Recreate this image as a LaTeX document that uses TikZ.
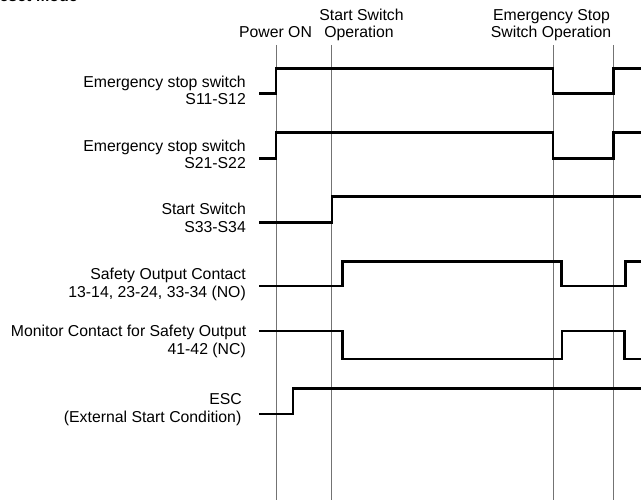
\documentclass[tikz,border=0pt]{standalone}
\usepackage{fontspec}
\setmainfont{Liberation Sans}
\begin{document}
\begin{tikzpicture}[x=1pt,y=-1pt,
  lbl/.style={inner sep=0pt, font=\fontsize{15.8}{18}\selectfont},
  ttl/.style={inner sep=0pt, font=\fontsize{16}{18}\bfseries},
  gridline/.style={draw=black!55, line width=0.9pt},
  sig/.style={draw=black, line width=2.6pt, line join=miter}]
\useasboundingbox (0,0) rectangle (641,502);
% cut-off title
\node[ttl, anchor=base east] (title) at (78,1.3) {Manual Reset Mode};
% time markers
\coordinate (pwt) at (276,45);  \coordinate (pwb) at (276,500);
\coordinate (stt) at (331.5,45); \coordinate (stb) at (331.5,500);
\coordinate (e1t) at (553,45);  \coordinate (e1b) at (553,500);
\coordinate (e2t) at (613.5,45); \coordinate (e2b) at (613.5,500);
\draw[gridline] (pwt) -- (pwb);
\draw[gridline] (stt) -- (stb);
\draw[gridline] (e1t) -- (e1b);
\draw[gridline] (e2t) -- (e2b);
% top labels
\node[lbl, anchor=base] (pw) at (275.5,37.7) {Power ON};
\node[lbl, anchor=base] (st1) at (361.5,20.7) {Start Switch};
\node[lbl, anchor=base] (st2) at (359,37.7) {Operation};
\node[lbl, anchor=base] (es1) at (551.5,20.7) {Emergency Stop};
\node[lbl, anchor=base] (es2) at (551,37.7) {Switch Operation};
% left labels
\node[lbl, anchor=base east] (a1) at (246,87.3) {Emergency stop switch};
\node[lbl, anchor=base east] (a2) at (246,105) {S11-S12};
\node[lbl, anchor=base east] (b1) at (246,151.3) {Emergency stop switch};
\node[lbl, anchor=base east] (b2) at (246,169) {S21-S22};
\node[lbl, anchor=base east] (c1) at (246,215) {Start Switch};
\node[lbl, anchor=base east] (c2) at (246,232.7) {S33-S34};
\node[lbl, anchor=base east] (d1) at (246,279.3) {Safety Output Contact};
\node[lbl, anchor=base east] (d2) at (246,297.3) {13-14, 23-24, 33-34 (NO)};
\node[lbl, anchor=base east] (m1) at (246.5,336.7) {Monitor Contact for Safety Output};
\node[lbl, anchor=base east] (m2) at (246,355) {41-42 (NC)};
\node[lbl, anchor=base east] (x1) at (242,404.3) {ESC};
\node[lbl, anchor=base east] (x2) at (241.5,422.7) {(External Start Condition)};
% signals
\draw[sig] (259,93.5) -- (276,93.5) -- (276,68.3) -- (553,68.3) -- (553,93.5) -- (613.5,93.5) -- (613.5,68.3) -- (641,68.3);
\draw[sig] (259,158.3) -- (276,158.3) -- (276,132.8) -- (553,132.8) -- (553,158.3) -- (613.5,158.3) -- (613.5,132.8) -- (641,132.8);
\draw[sig] (259,222.3) -- (332,222.3) -- (332,196.8) -- (641,196.8);
\draw[sig] (259,286) -- (342.3,286) -- (342.3,261.7) -- (561.3,261.7) -- (561.3,286) -- (625.7,286) -- (625.7,261.7) -- (641,261.7);
\draw[sig] (259,331) -- (342.3,331) -- (342.3,359) -- (562,359) -- (562,331) -- (624.3,331) -- (624.3,359) -- (641,359);
\draw[sig] (259,414) -- (293,414) -- (293,388.3) -- (641,388.3);
\end{tikzpicture}
\end{document}
